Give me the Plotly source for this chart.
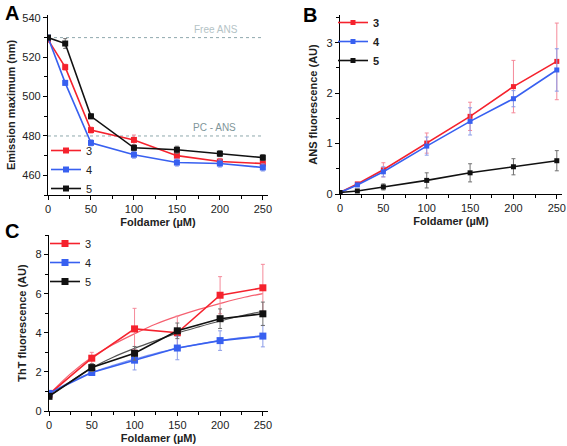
import plotly.graph_objects as go

# ---------- data ----------
x_ab = [0, 20, 50, 100, 150, 200, 250]
series = ["3", "4", "5"]

a_vals = {
    "3": [529, 515, 483, 478, 470, 467, 466],
    "4": [530, 507, 476.5, 470.5, 466.5, 466, 464],
    "5": [530, 527, 490, 474, 473, 471, 469],
}
a_err = {
    "3": [1, 1.5, 1.5, 2.5, 1.5, 1.5, 1.5],
    "4": [1, 1.2, 1.5, 1.8, 1.8, 1.8, 1.8],
    "5": [0.8, 2.5, 1.2, 1.5, 1.8, 1.5, 1.5],
}
ref_levels = [530, 480]
ref_labels = ["Free ANS", "PC - ANS"]

b_vals = {
    "3": [0.03, 0.20, 0.48, 1.01, 1.54, 2.13, 2.63],
    "4": [0.03, 0.18, 0.44, 0.95, 1.44, 1.89, 2.46],
    "5": [0.03, 0.06, 0.14, 0.27, 0.42, 0.54, 0.66],
}
b_err = {
    "3": [0.02, 0.03, 0.14, 0.20, 0.28, 0.52, 0.76],
    "4": [0.02, 0.03, 0.10, 0.18, 0.27, 0.16, 0.42],
    "5": [0.01, 0.02, 0.06, 0.15, 0.18, 0.16, 0.20],
}

x_c = [0, 50, 100, 150, 200, 250]
c_vals = {
    "3": [0.85, 2.70, 4.20, 4.00, 5.92, 6.30],
    "4": [0.90, 1.97, 2.60, 3.22, 3.60, 3.83],
    "5": [0.75, 2.22, 2.95, 4.10, 4.72, 4.97],
}
c_err = {
    "3": [0.10, 0.30, 1.05, 0.85, 0.95, 1.20],
    "4": [0.10, 0.10, 0.50, 0.60, 0.50, 0.55],
    "5": [0.10, 0.20, 0.35, 0.40, 0.50, 0.60],
}
x_fit = [0, 25, 50, 75, 100, 125, 150, 175, 200, 225, 250]
c_fit = {
    "3": [0.85, 1.90, 2.75, 3.40, 3.95, 4.45, 4.85, 5.20, 5.50, 5.78, 6.00],
    "4": [0.90, 1.50, 1.97, 2.33, 2.65, 2.95, 3.20, 3.42, 3.60, 3.75, 3.85],
    "5": [0.75, 1.50, 2.20, 2.75, 3.20, 3.60, 3.98, 4.30, 4.60, 4.87, 5.10],
}

colors = {"3": "#f5222d", "4": "#3860f0", "5": "#111111"}
err_colors = {"3": "#f58a9a", "4": "#8a9be8", "5": "#707070"}
fit_colors = {"3": "#f56070", "4": "#7f95f0", "5": "#555555"}

W, H = 567, 446
def px(x0, x1):
    return [x0 / W, x1 / W]
def py(top, bottom):
    return [(H - bottom) / H, (H - top) / H]

FONT = "Liberation Sans, Arial, sans-serif"

fig = go.Figure()

def add_panel(xs, vals, errs, xa, ya, legend, msize):
    for s in series:
        fig.add_trace(go.Scatter(
            x=xs, y=vals[s], mode="lines+markers", name=s,
            line=dict(color=colors[s], width=1.6),
            marker=dict(symbol="square", size=msize, color=colors[s]),
            error_y=dict(type="data", array=errs[s], color=err_colors[s],
                         thickness=1, width=2),
            xaxis=xa, yaxis=ya, legend=legend,
        ))

# Panel A
for lvl in ref_levels:
    fig.add_trace(go.Scatter(
        x=[0, 250], y=[lvl, lvl], mode="lines", showlegend=False,
        line=dict(color="#8fa8ad", width=1, dash="dot"),
        xaxis="x", yaxis="y", hoverinfo="skip"))
add_panel(x_ab, a_vals, a_err, "x", "y", "legend", 6)

# Panel B
add_panel(x_ab, b_vals, b_err, "x2", "y2", "legend2", 5)

# Panel C fits
for s in series:
    fig.add_trace(go.Scatter(
        x=x_fit, y=c_fit[s], mode="lines", showlegend=False,
        line=dict(color=fit_colors[s], width=1.2, shape="spline"),
        xaxis="x3", yaxis="y3", hoverinfo="skip"))
add_panel(x_c, c_vals, c_err, "x3", "y3", "legend3", 7)

axis_common = dict(
    showgrid=False, zeroline=False, showline=True, linecolor="black",
    linewidth=1.2, ticks="outside", ticklen=4, tickwidth=1.2, automargin=False,
    tickcolor="black", tickfont=dict(family=FONT, size=11, color="#222"),
    minor=dict(ticks="outside", ticklen=2.5, tickwidth=1, tickcolor="black"),
)
xtitle = dict(text="<b>Foldamer (µM)</b>", font=dict(family=FONT, size=11, color="#222"),
              standoff=4)

fig.update_layout(
    width=W, height=H, margin=dict(l=0, r=0, t=0, b=0),
    paper_bgcolor="white", plot_bgcolor="white",
    font=dict(family=FONT, size=11, color="#222"),
    xaxis=dict(axis_common, domain=px(48, 268), range=[0, 256], dtick=50,
               minor=dict(axis_common["minor"], dtick=25), anchor="y",
               title=xtitle),
    yaxis=dict(axis_common, domain=py(15, 195), range=[450, 541.5], dtick=20,
               minor=dict(axis_common["minor"], dtick=10), anchor="x",
               title=dict(text="<b>Emission maximum (nm)</b>",
                          font=dict(family=FONT, size=11, color="#222"), standoff=4)),
    xaxis2=dict(axis_common, domain=px(340, 562), range=[0, 256], dtick=50,
                minor=dict(axis_common["minor"], dtick=25), anchor="y2",
                title=xtitle),
    yaxis2=dict(axis_common, domain=py(15, 194), range=[0, 3.55], dtick=1,
                minor=dict(axis_common["minor"], dtick=0.5), anchor="x2",
                title=dict(text="<b>ANS fluorescence (AU)</b>",
                           font=dict(family=FONT, size=11, color="#222"), standoff=6)),
    xaxis3=dict(axis_common, domain=px(49, 268), range=[0, 256], dtick=50,
                minor=dict(axis_common["minor"], dtick=25), anchor="y3",
                title=xtitle),
    yaxis3=dict(axis_common, domain=py(235, 411), range=[0, 9], dtick=2,
                minor=dict(axis_common["minor"], dtick=1), anchor="x3",
                title=dict(text="<b>ThT fluorescence (AU)</b>",
                           font=dict(family=FONT, size=11, color="#222"), standoff=6)),
    legend=dict(x=46 / W, y=(H - 136) / H, xanchor="left", yanchor="top",
                bgcolor="rgba(0,0,0,0)", font=dict(family=FONT, size=11),
                tracegroupgap=0, itemwidth=30),
    legend2=dict(x=333 / W, y=(H - 8) / H, xanchor="left", yanchor="top",
                 bgcolor="rgba(0,0,0,0)", font=dict(family=FONT, size=11, weight="bold"),
                 tracegroupgap=0, itemwidth=30),
    legend3=dict(x=45 / W, y=(H - 229) / H, xanchor="left", yanchor="top",
                 bgcolor="rgba(0,0,0,0)", font=dict(family=FONT, size=11),
                 tracegroupgap=0, itemwidth=30),
    showlegend=True,
)

annotations = [
    dict(text="<b>A</b>", x=3 / W, y=(H - 0) / H, font=dict(family=FONT, size=20, color="black")),
    dict(text="<b>B</b>", x=301 / W, y=(H - 2) / H, font=dict(family=FONT, size=20, color="black")),
    dict(text="<b>C</b>", x=3 / W, y=(H - 218) / H, font=dict(family=FONT, size=20, color="black")),
]
for a in annotations:
    a.update(xref="paper", yref="paper", xanchor="left", yanchor="top", showarrow=False)
fig.update_layout(annotations=annotations)

fig.add_annotation(text=ref_labels[0], x=196, y=ref_levels[0], xref="x", yref="y",
                   yanchor="bottom", showarrow=False, yshift=1,
                   font=dict(family=FONT, size=10, color="#b4c3c6"))
fig.add_annotation(text=ref_labels[1], x=194, y=ref_levels[1], xref="x", yref="y",
                   yanchor="bottom", showarrow=False, yshift=1,
                   font=dict(family=FONT, size=10, color="#7f969a"))

fig.write_html("out.html", config={"displayModeBar": False},
               post_script="document.body.style.margin='0';document.body.style.overflow='hidden';")
